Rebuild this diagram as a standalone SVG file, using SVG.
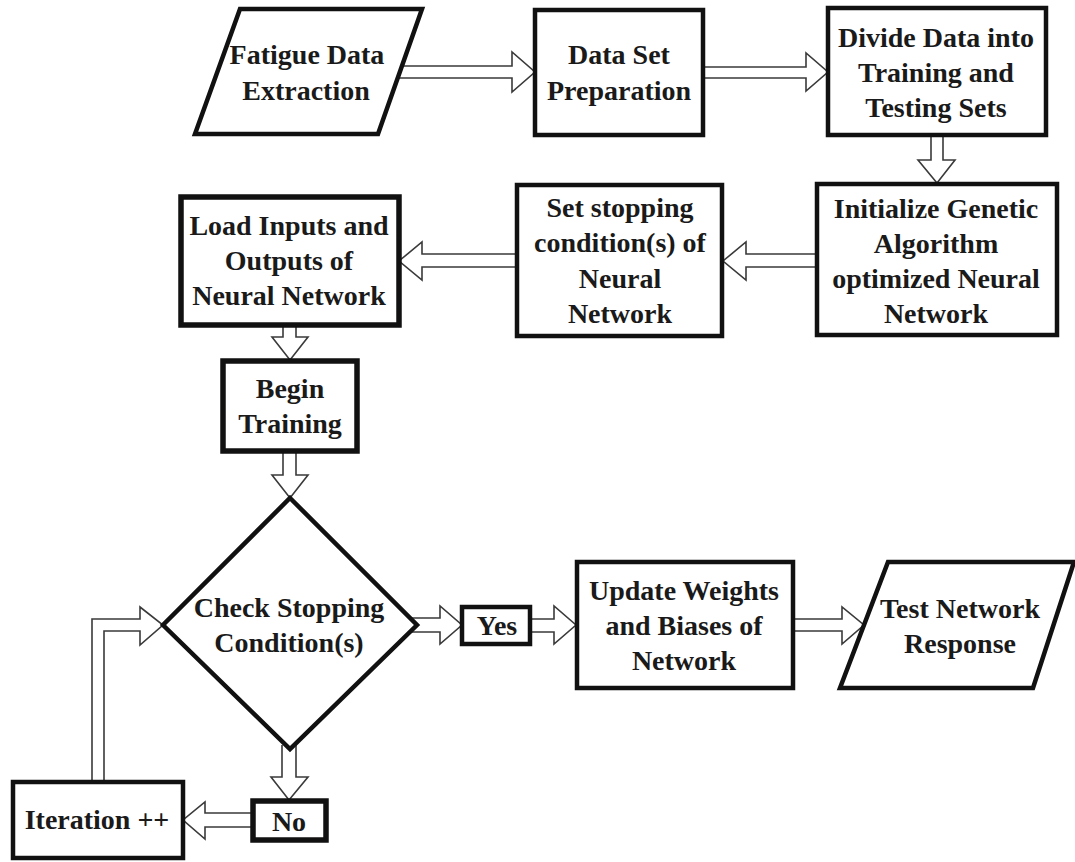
<svg xmlns="http://www.w3.org/2000/svg" width="1075" height="862" viewBox="0 0 1075 862">
  <defs>
    <style>
      .box { fill: #ffffff; stroke: #111111; stroke-width: 4.5; stroke-linejoin: miter; }
      .thick { stroke-width: 5.5; }
      .arrow { fill: #ffffff; stroke: #3a3a3a; stroke-width: 1.6; stroke-linejoin: miter; }
      .label { font-family: "Liberation Serif", "Times New Roman", serif; font-weight: bold; font-size: 28px; fill: #1a1a1a; text-anchor: middle; }
    </style>
  </defs>
  <rect width="1075" height="862" fill="#ffffff"/>

  <!-- block arrows between the steps -->
  <g id="connectors">
    <path class="arrow" d="M395,66 L512,66 L512,52 L535,72 L512,92 L512,78 L395,78"/>
    <path class="arrow" d="M703,67 L806,67 L806,53 L828,72 L806,91 L806,78 L703,78"/>
    <path class="arrow" d="M931,135 L931,160 L918,160 L937,183 L955,160 L943,160 L943,135"/>
    <path class="arrow" d="M817,254 L746,254 L746,242 L723,261 L746,280 L746,267 L817,267"/>
    <path class="arrow" d="M517,254 L422,254 L422,242 L399,261 L422,280 L422,267 L517,267"/>
    <path class="arrow" d="M283,325 L283,337 L272,337 L290,360 L308,337 L296,337 L296,325"/>
    <path class="arrow" d="M283,451 L283,475 L272,475 L290,498 L308,475 L296,475 L296,451"/>
    <path class="arrow" d="M405,618 L440,618 L440,606 L462,625 L440,644 L440,632 L405,632"/>
    <path class="arrow" d="M530,619 L554,619 L554,606 L576,625 L554,644 L554,632 L530,632"/>
    <path class="arrow" d="M793,619 L842,619 L842,607 L864,625 L842,644 L842,631 L793,631"/>
    <path class="arrow" d="M282,745 L282,777 L271,777 L289,800 L308,777 L296,777 L296,745"/>
    <path class="arrow" d="M253,813 L205,813 L205,802 L183,820 L205,839 L205,827 L253,827"/>
    <path class="arrow" d="M92,782 L92,619 L140,619 L140,607 L163,625 L140,645 L140,631 L104,631 L104,782"/>
  </g>

  <g id="fatigue-data-extraction">
    <polygon class="box" points="240,9 422,9 378,134 195,134"/>
    <text class="label" x="307" y="64">Fatigue Data</text>
    <text class="label" x="306" y="100">Extraction</text>
  </g>

  <g id="data-set-preparation">
    <rect class="box" x="535" y="10" width="168" height="125"/>
    <text class="label" x="619" y="64">Data Set</text>
    <text class="label" x="619" y="100">Preparation</text>
  </g>

  <g id="divide-data">
    <rect class="box" x="828" y="8" width="218" height="127"/>
    <text class="label" x="936" y="47">Divide Data into</text>
    <text class="label" x="936" y="82">Training and</text>
    <text class="label" x="936" y="117">Testing Sets</text>
  </g>

  <g id="initialize-ga-nn">
    <rect class="box" x="817" y="184" width="240" height="151"/>
    <text class="label" x="936" y="218">Initialize Genetic</text>
    <text class="label" x="936" y="253">Algorithm</text>
    <text class="label" x="936" y="288">optimized Neural</text>
    <text class="label" x="936" y="323">Network</text>
  </g>

  <g id="set-stopping-conditions">
    <rect class="box" x="517" y="185" width="205" height="151"/>
    <text class="label" x="620" y="217">Set stopping</text>
    <text class="label" x="620" y="252">condition(s) of</text>
    <text class="label" x="620" y="288">Neural</text>
    <text class="label" x="620" y="323">Network</text>
  </g>

  <g id="load-inputs-outputs">
    <rect class="box thick" x="181" y="197" width="218" height="128"/>
    <text class="label" x="289" y="235">Load Inputs and</text>
    <text class="label" x="289" y="270">Outputs of</text>
    <text class="label" x="289" y="305">Neural Network</text>
  </g>

  <g id="begin-training">
    <rect class="box thick" x="223" y="361" width="134" height="90"/>
    <text class="label" x="290" y="398">Begin</text>
    <text class="label" x="290" y="433">Training</text>
  </g>

  <g id="check-stopping">
    <polygon class="box" points="290,498 417,625 290,749 163,625"/>
    <text class="label" x="289" y="617">Check Stopping</text>
    <text class="label" x="289" y="652">Condition(s)</text>
  </g>

  <g id="yes">
    <rect class="box" x="462" y="607" width="68" height="37"/>
    <text class="label" x="497" y="635">Yes</text>
  </g>

  <g id="update-weights">
    <rect class="box" x="577" y="562" width="216" height="126"/>
    <text class="label" x="684" y="600">Update Weights</text>
    <text class="label" x="684" y="635">and Biases of</text>
    <text class="label" x="684" y="670">Network</text>
  </g>

  <g id="test-network-response">
    <polygon class="box" points="888,562 1074,562 1033,688 840,688"/>
    <text class="label" x="960" y="618">Test Network</text>
    <text class="label" x="960" y="653">Response</text>
  </g>

  <g id="no">
    <rect class="box thick" x="253" y="801" width="73" height="39"/>
    <text class="label" x="289" y="831">No</text>
  </g>

  <g id="iteration">
    <rect class="box" x="13" y="782" width="170" height="76"/>
    <text class="label" x="97" y="829">Iteration ++</text>
  </g>
</svg>
